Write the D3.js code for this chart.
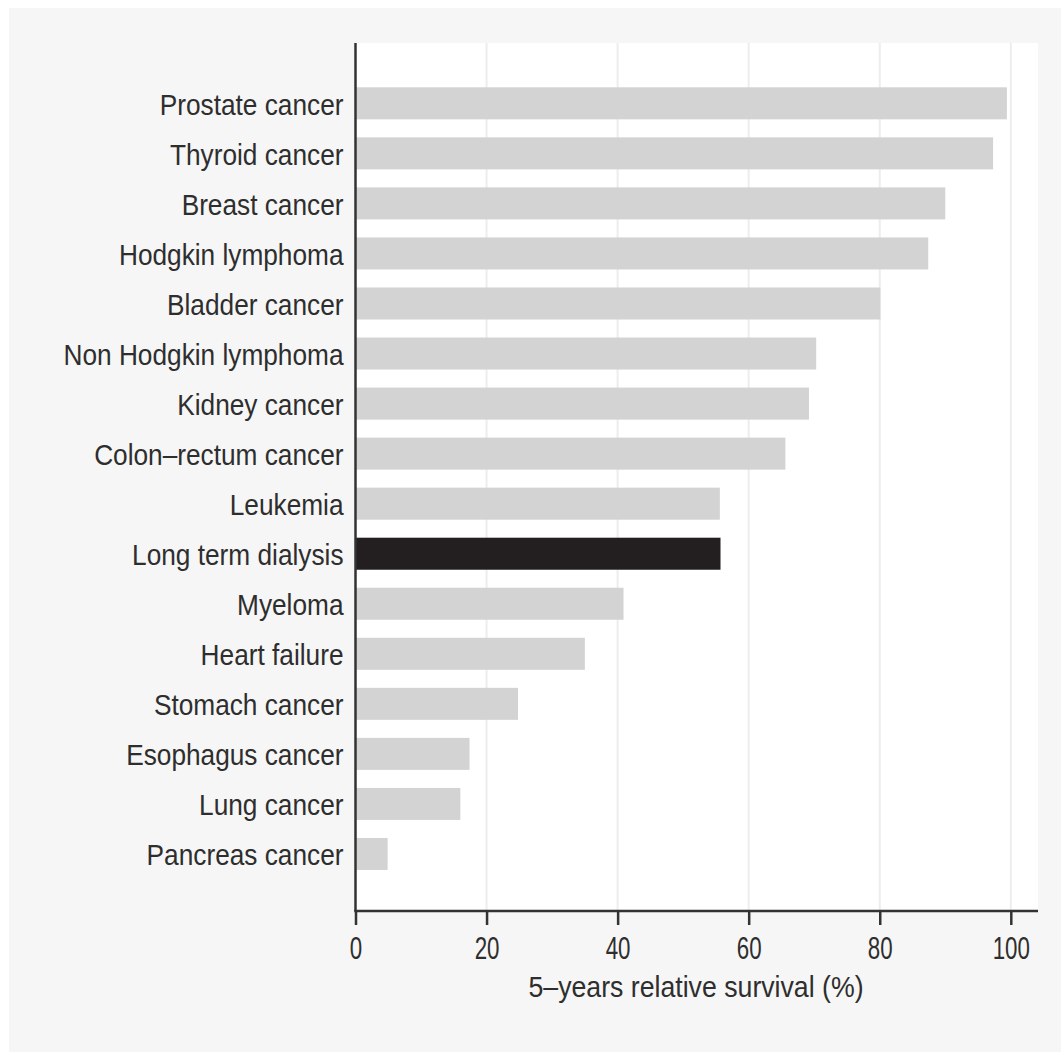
<!DOCTYPE html>
<html>
<head>
<meta charset="utf-8">
<script src="https://cdn.jsdelivr.net/npm/d3@7"></script>
<style>
  html, body { margin: 0; padding: 0; background: #ffffff; }
  svg { display: block; }
  text { font-family: "Liberation Sans", Arial, Helvetica, sans-serif; fill: #2e2e2e; }
</style>
</head>
<body>
<svg id="chart" width="1061" height="1052"></svg>
<script>
const categories = [
  "Prostate cancer", "Thyroid cancer", "Breast cancer", "Hodgkin lymphoma",
  "Bladder cancer", "Non Hodgkin lymphoma", "Kidney cancer", "Colon\u2013rectum cancer",
  "Leukemia", "Long term dialysis", "Myeloma", "Heart failure",
  "Stomach cancer", "Esophagus cancer", "Lung cancer", "Pancreas cancer"
];
const survival = [99.4, 97.3, 90.0, 87.4, 80.1, 70.3, 69.2, 65.6, 55.6, 55.7, 40.9, 35.0, 24.8, 17.4, 16.0, 4.9];
const highlighted = ["Long term dialysis"];
const xTicks = [0, 20, 40, 60, 80, 100];
const xTitle = "5\u2013years relative survival (%)";

const svg = d3.select("#chart");

// outer grey background
svg.append("rect").attr("x", 9).attr("y", 8).attr("width", 1052).attr("height", 1044).attr("fill", "#f6f6f6");

const x = d3.scaleLinear().domain([0, 100]).range([355.5, 1010.8]);
const y = d3.scaleBand().domain(categories).range([78.3, 879]).paddingInner(0.36).paddingOuter(0.18);

const panelTop = 43, panelBottom = 911, panelRight = 1038;

// white panel
svg.append("rect")
  .attr("x", x(0)).attr("y", panelTop)
  .attr("width", panelRight - x(0)).attr("height", panelBottom - panelTop)
  .attr("fill", "#ffffff");

// grid lines
svg.append("g").selectAll("line").data(xTicks.filter(d => d > 0)).join("line")
  .attr("x1", d => x(d)).attr("x2", d => x(d))
  .attr("y1", panelTop).attr("y2", panelBottom)
  .attr("stroke", "#ededed").attr("stroke-width", 2);

// bars
svg.append("g").selectAll("rect").data(categories).join("rect")
  .attr("x", x(0))
  .attr("y", d => y(d))
  .attr("width", (d, i) => x(survival[i]) - x(0))
  .attr("height", y.bandwidth())
  .attr("fill", d => highlighted.includes(d) ? "#231f20" : "#d3d3d3");

// category labels
const labSx = 0.875;
svg.append("g").selectAll("text").data(categories).join("text")
  .attr("transform", d => `translate(343.5,${y(d) + y.bandwidth() / 2 + 11.5}) scale(${labSx},1)`)
  .attr("text-anchor", "end")
  .style("font-size", "30px")
  .text(d => d);

// y axis line
svg.append("line")
  .attr("x1", x(0)).attr("x2", x(0))
  .attr("y1", panelTop).attr("y2", panelBottom)
  .attr("stroke", "#333333").attr("stroke-width", 2.5);

// x axis
const xAxis = d3.axisBottom(x).tickValues(xTicks).tickFormat(d3.format("d")).tickSize(14).tickPadding(34).tickSizeOuter(0);
const gx = svg.append("g").attr("transform", `translate(0,${panelBottom})`).call(xAxis);
gx.select(".domain").remove();
gx.selectAll(".tick line").attr("stroke", "#333333").attr("stroke-width", 2.5);
gx.selectAll(".tick text")
  .attr("dy", 0)
  .attr("transform", "scale(0.72,1)")
  .style("font-size", "31px")
  .style("font-family", "'Liberation Sans', Arial, sans-serif")
  .attr("fill", "#2e2e2e");
gx.append("line")
  .attr("x1", x(0) - 1.25).attr("x2", panelRight)
  .attr("y1", 0).attr("y2", 0)
  .attr("stroke", "#333333").attr("stroke-width", 2.5);

// x axis title
svg.append("text")
  .attr("transform", `translate(696,997) scale(0.89,1)`)
  .attr("text-anchor", "middle")
  .style("font-size", "30px")
  .text(xTitle);
</script>
</body>
</html>
